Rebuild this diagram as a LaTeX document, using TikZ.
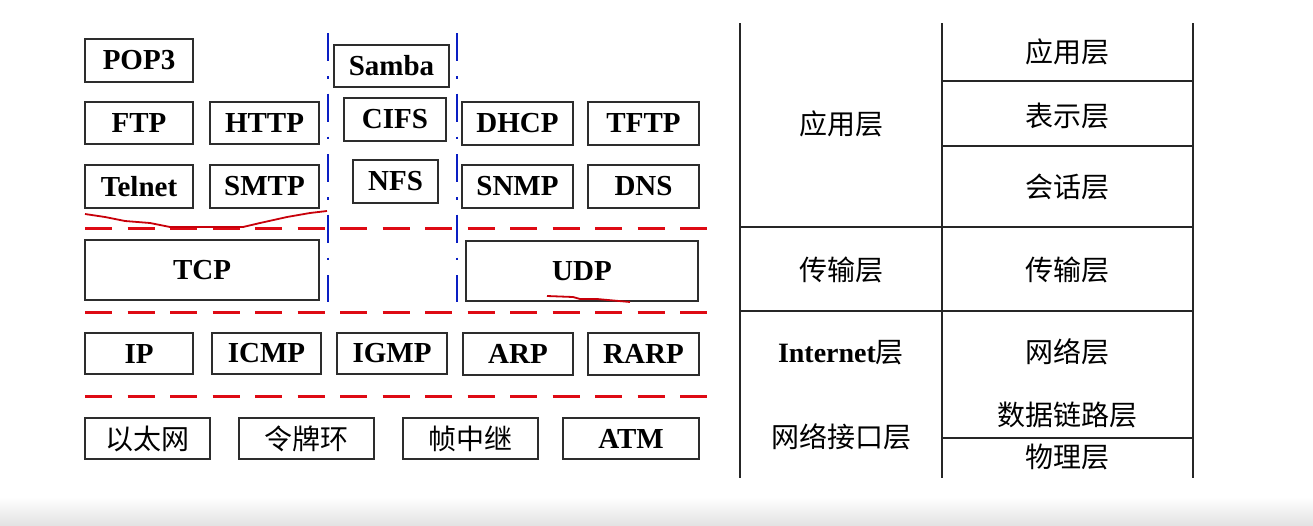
\documentclass[tikz,border=0pt]{standalone}
\usepackage{fontspec}
\setmainfont{Liberation Serif}
\newfontfamily\cjk{Noto Sans CJK SC}
\definecolor{boxline}{RGB}{45,45,45}
\definecolor{dashred}{RGB}{222,10,20}
\definecolor{annored}{RGB}{200,0,10}
\definecolor{dashblue}{RGB}{10,30,195}
\tikzset{
  box/.style={draw=boxline, line width=1.2pt, inner sep=0pt, fill=white,
    font=\fontsize{29}{32}\selectfont\bfseries},
  cbox/.style={box, font=\fontsize{28}{32}\selectfont\cjk},
  redsep/.style={draw=dashred, line width=3pt, dash pattern=on 27pt off 15.5pt},
  bluesep/.style={draw=dashblue, line width=2.8pt, dash pattern=on 28pt off 15pt on 2.5pt off 15pt},
  anno/.style={draw=annored, line width=1.8pt, line join=round},
  tline/.style={draw=black!85, line width=1.4pt},
  tlabel/.style={inner sep=0pt, font=\fontsize{28}{32}\selectfont\cjk},
}
\begin{document}
\begin{tikzpicture}[x=1pt,y=-1pt]
\useasboundingbox (0,0) rectangle (1313,525);
\fill[white] (0,0) rectangle (1313,525);
\shade[top color=white, bottom color=black!11] (0,497) rectangle (1313,525);

% separators
\draw[redsep] (85,228) -- (708,228);
\draw[redsep] (85,312) -- (708,312);
\draw[redsep] (85,396) -- (708,396);
\draw[bluesep] (328,33) -- (328,302);
\draw[bluesep] (457,33) -- (457,302);

% application protocols
\node[box, minimum width=108, minimum height=43] (pop3) at (139,60.5) {POP3};
\node[box, minimum width=108, minimum height=42] (ftp) at (139,123) {FTP};
\node[box, minimum width=109, minimum height=42] (http) at (264.5,123) {HTTP};
\node[box, minimum width=108, minimum height=43] (telnet) at (139,186.5) {Telnet};
\node[box, minimum width=109, minimum height=43] (smtp) at (264.5,186.5) {SMTP};
\node[box, minimum width=115, minimum height=42] (samba) at (391.5,66) {Samba};
\node[box, minimum width=102, minimum height=43] (cifs) at (395,119.5) {CIFS};
\node[box, minimum width=85, minimum height=43] (nfs) at (395.5,181.5) {NFS};
\node[box, minimum width=111, minimum height=43] (dhcp) at (517.5,123.5) {DHCP};
\node[box, minimum width=111, minimum height=43] (tftp) at (643.5,123.5) {TFTP};
\node[box, minimum width=111, minimum height=43] (snmp) at (517.5,186.5) {SNMP};
\node[box, minimum width=111, minimum height=43] (dns) at (643.5,186.5) {DNS};

% transport
\node[box, minimum width=234, minimum height=60] (tcp) at (202,270) {TCP};
\node[box, minimum width=232, minimum height=60] (udp) at (582,271) {UDP};

% internet
\node[box, minimum width=108, minimum height=41] (ip) at (139,353.5) {IP};
\node[box, minimum width=109, minimum height=41] (icmp) at (266.5,353.5) {ICMP};
\node[box, minimum width=110, minimum height=41] (igmp) at (392,353.5) {IGMP};
\node[box, minimum width=110, minimum height=42] (arp) at (518,354) {ARP};
\node[box, minimum width=111, minimum height=42] (rarp) at (643.5,354) {RARP};

% network interface
\node[cbox, minimum width=125, minimum height=41] (eth) at (147.5,438.5) {以太网};
\node[cbox, minimum width=135, minimum height=41] (token) at (306.5,438.5) {令牌环};
\node[cbox, minimum width=135, minimum height=41] (frame) at (470.5,438.5) {帧中继};
\node[box, minimum width=136, minimum height=41] (atm) at (631,438.5) {ATM};

% hand-drawn annotations
\draw[anno] (85,214) -- (105,217) -- (125,221) -- (150,223) -- (170,227) -- (243,227) -- (260,223) -- (287,217) -- (310,213) -- (327,211);
\draw[anno] (547,296) -- (573,297) -- (580,299) -- (597,299) -- (630,302);

% reference table
\draw[tline] (740,23) -- (740,478);
\draw[tline] (942,23) -- (942,478);
\draw[tline] (1193,23) -- (1193,478);
\draw[tline] (942,81) -- (1193,81);
\draw[tline] (942,146) -- (1193,146);
\draw[tline] (740,227) -- (1193,227);
\draw[tline] (740,311) -- (1193,311);
\draw[tline] (942,438) -- (1193,438);

\node[tlabel] (osiapp) at (1067.5,52) {应用层};
\node[tlabel] (osipres) at (1067.5,116) {表示层};
\node[tlabel] (osisess) at (1067.5,187) {会话层};
\node[tlabel] (ositrans) at (1067.5,270) {传输层};
\node[tlabel] (osinet) at (1067.5,352) {网络层};
\node[tlabel] (osilink) at (1067.5,415) {数据链路层};
\node[tlabel] (osiphy) at (1067.5,457) {物理层};

\node[tlabel] (tcpapp) at (841,124) {应用层};
\node[tlabel] (tcptrans) at (841,270) {传输层};
\node[tlabel] (tcpinet) at (841,353) {{\rmfamily\bfseries Internet}层};
\node[tlabel] (tcpnif) at (841,437) {网络接口层};
\end{tikzpicture}
\end{document}
